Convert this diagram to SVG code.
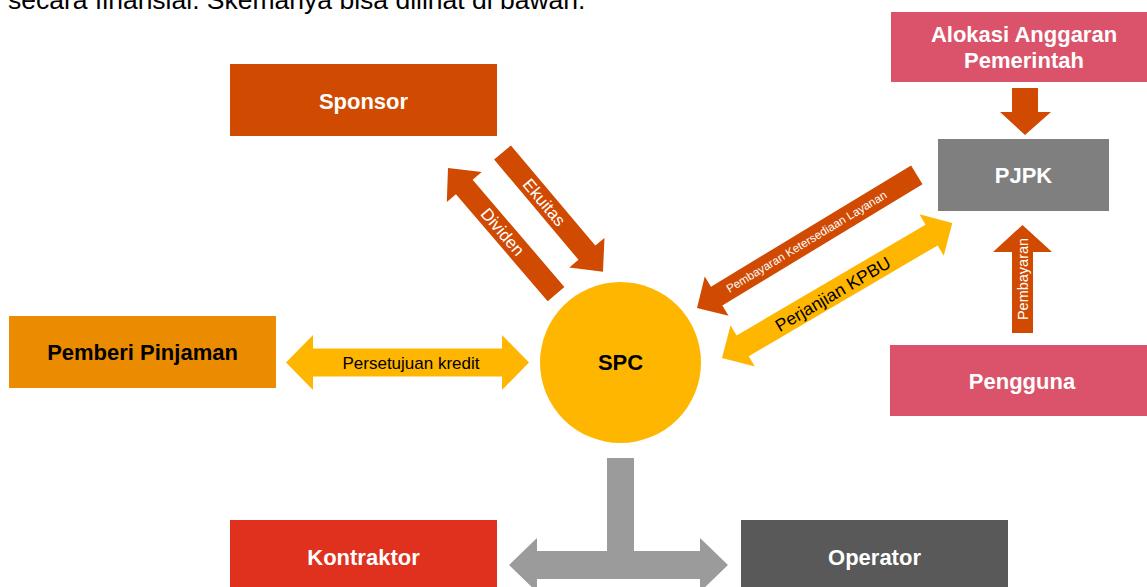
<svg xmlns="http://www.w3.org/2000/svg" width="1147" height="587" viewBox="0 0 1147 587">
<style>
.t{font-family:"Liberation Sans",Arial,sans-serif}
.b{font-family:"Liberation Sans",Arial,sans-serif;font-weight:bold;font-size:22px;text-anchor:middle}
.w{fill:#fff}
.k{fill:#000}
.or{fill:#D04A02}
.ye{fill:#FFB600}
.gr{fill:#9B9B9B}
</style>
<rect width="1147" height="587" fill="#fff"/>
<text class="t" x="8" y="9" font-size="26.5" fill="#000">secara finansial. Skemanya bisa dilihat di bawah.</text>

<g id="connectors">
  <!-- Ekuitas: Sponsor -> SPC -->
  <g id="c-ekuitas" transform="translate(502.5,152.5) rotate(49.9)">
    <polygon class="or" points="0,-11 131,-11 131,-23 156,0 131,23 131,11 0,11"/>
    <text class="t w" x="65" y="6" font-size="17" text-anchor="middle">Ekuitas</text>
  </g>
  <!-- Dividen: SPC -> Sponsor -->
  <g id="c-dividen" transform="translate(448,168) rotate(49.4)">
    <polygon class="or" points="0,0 25,-23 25,-11 166,-11 166,11 25,11 25,23"/>
    <text class="t w" x="84" y="6" font-size="17" text-anchor="middle">Dividen</text>
  </g>
  <!-- Pembayaran Ketersediaan Layanan: PJPK -> SPC -->
  <g id="c-pkl" transform="translate(697,308) rotate(-31.2)">
    <polygon class="or" points="0,0 23,-23 23,-11 257,-11 257,11 23,11 23,23"/>
    <text class="t w" x="128" y="4" font-size="11.6" text-anchor="middle">Pembayaran Ketersediaan Layanan</text>
  </g>
  <!-- Perjanjian KPBU: SPC <-> PJPK -->
  <g id="c-kpbu" transform="translate(722,358) rotate(-30.4)">
    <polygon class="ye" points="0,0 24,-24 24,-12 243,-12 243,-24 267,0 243,24 243,12 24,12 24,24"/>
    <text class="t k" x="128" y="7" font-size="17.5" text-anchor="middle">Perjanjian KPBU</text>
  </g>
  <!-- Persetujuan kredit -->
  <g id="c-kredit">
    <polygon class="ye" points="286,362.5 313,335 313,348.5 502,348.5 502,335 529,362.5 502,390 502,376.5 313,376.5 313,390"/>
    <text class="t k" x="411" y="368.5" font-size="17" text-anchor="middle">Persetujuan kredit</text>
  </g>
  <!-- Alokasi -> PJPK -->
  <polygon id="c-alokasi" class="or" points="1012,88 1038,88 1038,112 1051,112 1025,135 1000,112 1012,112"/>
  <!-- Pengguna -> PJPK -->
  <g id="c-pembayaran">
    <polygon class="or" points="1012,333 1012,252 993,252 1022.5,225 1052,252 1033,252 1033,333"/>
    <text class="t w" transform="translate(1028,279) rotate(-90)" x="0" y="0" font-size="14.5" text-anchor="middle">Pembayaran</text>
  </g>
  <!-- SPC -> Kontraktor / Operator -->
  <polygon id="c-t" class="gr" points="607,458 634,458 634,551 700,551 700,538 728,565 700,592 700,579 537,579 537,592 509,565 537,538 537,551 607,551"/>
</g>

<g id="n-sponsor">
  <rect x="230" y="64" width="267" height="72" fill="#D04A02"/>
  <text class="b w" x="363.5" y="109">Sponsor</text>
</g>
<g id="n-alokasi">
  <rect x="891" y="12" width="256" height="70" fill="#DB536A"/>
  <text class="b w" x="1024" y="42">Alokasi Anggaran</text>
  <text class="b w" x="1024" y="68">Pemerintah</text>
</g>
<g id="n-pjpk">
  <rect x="938" y="139" width="171" height="72" fill="#7F7F7F"/>
  <text class="b w" x="1023.5" y="183">PJPK</text>
</g>
<g id="n-pengguna">
  <rect x="890" y="345" width="257" height="71" fill="#DB536A"/>
  <text class="b w" x="1022" y="389">Pengguna</text>
</g>
<g id="n-pemberi">
  <rect x="9" y="316" width="267" height="72" fill="#EB8C00"/>
  <text class="b k" x="142.5" y="360">Pemberi Pinjaman</text>
</g>
<g id="n-spc">
  <circle cx="620.5" cy="362.5" r="80.5" fill="#FFB600"/>
  <text class="b k" x="620.5" y="370">SPC</text>
</g>
<g id="n-kontraktor">
  <rect x="230" y="520" width="267" height="70" fill="#E0301E"/>
  <text class="b w" x="363.5" y="565">Kontraktor</text>
</g>
<g id="n-operator">
  <rect x="741" y="520" width="267" height="70" fill="#595959"/>
  <text class="b w" x="874.5" y="565">Operator</text>
</g>
</svg>
